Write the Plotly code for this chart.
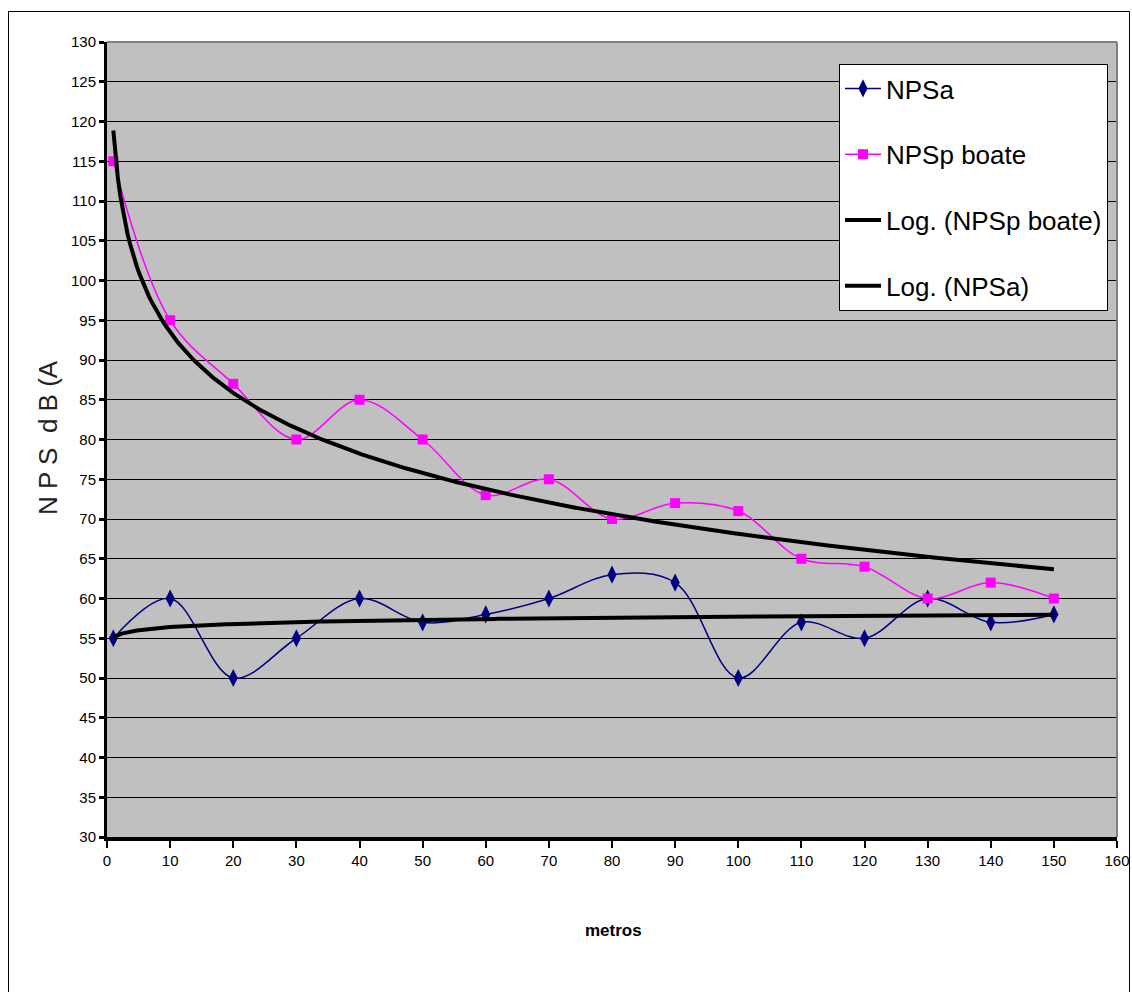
import numpy as np
import plotly.graph_objects as go

metros = [1, 10, 20, 30, 40, 50, 60, 70, 80, 90, 100, 110, 120, 130, 140, 150]
npsa = [55, 60, 50, 55, 60, 57, 58, 60, 63, 62, 50, 57, 55, 60, 57, 58]
npsp_boate = [115, 95, 87, 80, 85, 80, 73, 75, 70, 72, 71, 65, 64, 60, 62, 60]

x_ticks = list(range(0, 161, 10))
y_ticks = list(range(30, 131, 5))

# Logarithmic trendlines (least squares on ln x), as in Excel
xs = np.array(metros, dtype=float)
xd = np.linspace(xs.min(), xs.max(), 400)
a_p, b_p = np.polyfit(np.log(xs), np.array(npsp_boate, float), 1)
a_a, b_a = np.polyfit(np.log(xs), np.array(npsa, float), 1)
trend_p = a_p * np.log(xd) + b_p
trend_a = a_a * np.log(xd) + b_a

FONT = "Liberation Sans, Arial, sans-serif"

fig = go.Figure()
fig.add_trace(go.Scatter(x=metros, y=npsa, name="NPSa", mode="lines+markers",
                         line=dict(color="#000080", width=1.5, shape="spline", smoothing=1),
                         marker=dict(symbol="diamond-tall", size=13, color="#000080"),
                         legendgroup="a"))
fig.add_trace(go.Scatter(x=metros, y=npsp_boate, name="NPSp boate", mode="lines+markers",
                         line=dict(color="#FF00FF", width=1.5, shape="spline", smoothing=1),
                         marker=dict(symbol="square", size=10, color="#FF00FF"),
                         legendgroup="b"))
fig.add_trace(go.Scatter(x=xd, y=trend_p, name="Log. (NPSp boate)", mode="lines",
                         line=dict(color="black", width=4), legendgroup="c"))
fig.add_trace(go.Scatter(x=xd, y=trend_a, name="Log. (NPSa)", mode="lines",
                         line=dict(color="black", width=4), legendgroup="d"))

W, H = 1132, 992
L, R, T, B = 107, 1117, 42, 837
pw, ph = R - L, B - T

fig.update_layout(
    width=W, height=H,
    margin=dict(l=L, r=W - R, t=T, b=H - B, pad=0, autoexpand=False),
    paper_bgcolor="white",
    plot_bgcolor="#C0C0C0",
    font=dict(family=FONT, size=15, color="black"),
    showlegend=True,
    legend=dict(x=(839 - L) / pw, y=(B - 64) / ph, xanchor="left", yanchor="top",
                bgcolor="white", bordercolor="black", borderwidth=1,
                font=dict(family=FONT, size=26, color="black"),
                tracegroupgap=29, itemwidth=36),
    xaxis=dict(range=[0, 160], tickvals=x_ticks, ticktext=[str(v) for v in x_ticks],
               showgrid=False, zeroline=False, showline=True, linecolor="black", linewidth=4,
               ticks="outside", ticklen=7, tickwidth=2, tickcolor="black",
               tickfont=dict(family=FONT, size=15, color="black")),
    yaxis=dict(range=[30, 130], tickvals=y_ticks, ticktext=[str(v) for v in y_ticks],
               showgrid=True, gridcolor="black", gridwidth=1, zeroline=False,
               showline=True, linecolor="black", linewidth=3,
               ticks="outside", ticklen=5, tickwidth=3, tickcolor="black",
               tickfont=dict(family=FONT, size=15, color="black")),
    shapes=[
        dict(type="line", xref="paper", yref="paper", x0=0, x1=1, y0=1, y1=1,
             line=dict(color="#808080", width=2), layer="above"),
        dict(type="line", xref="paper", yref="paper", x0=1, x1=1, y0=0, y1=1,
             line=dict(color="#808080", width=2), layer="above"),
        dict(type="rect", xref="paper", yref="paper",
             x0=(8.5 - L) / pw, x1=(1129.5 - L) / pw, y0=(B - 1010) / ph, y1=(B - 11.5) / ph,
             line=dict(color="black", width=1), fillcolor="rgba(0,0,0,0)", layer="below"),
    ],
    annotations=[
        dict(text="N P S  d B (A", xref="paper", yref="paper",
             x=(48 - L) / pw, y=(B - 438) / ph, xanchor="center", yanchor="middle",
             textangle=-90, showarrow=False,
             font=dict(family=FONT, size=26, color="#222222")),
        dict(text="<b>metros</b>", xref="paper", yref="paper",
             x=(613 - L) / pw, y=(B - 930) / ph, xanchor="center", yanchor="middle",
             showarrow=False,
             font=dict(family=FONT, size=17, color="black")),
    ],
)

fig.write_html(
    "out.html",
    config={"displayModeBar": False},
    post_script=(
        "document.body.style.margin='0';"
        "document.body.style.overflow='hidden';"
        "document.documentElement.style.overflow='hidden';"
    ),
)
